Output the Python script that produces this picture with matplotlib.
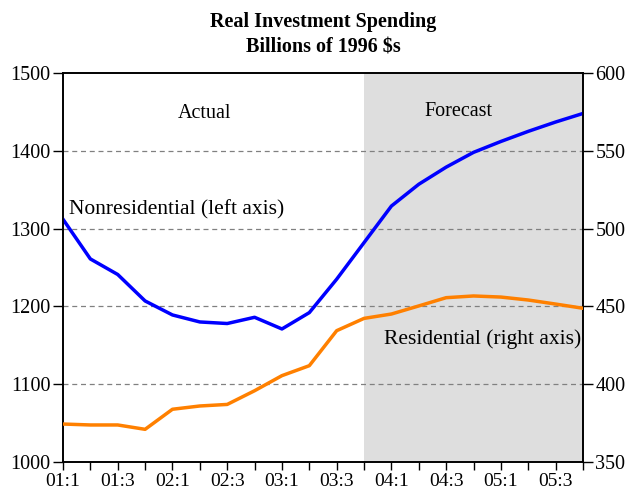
import matplotlib
matplotlib.use("Agg")
import matplotlib.pyplot as plt
import numpy as np

quarters = ["01:1","01:2","01:3","01:4","02:1","02:2","02:3","02:4",
            "03:1","03:2","03:3","03:4","04:1","04:2","04:3","04:4",
            "05:1","05:2","05:3","05:4"]
nonresidential = [1312,1261,1241,1207,1189,1180,1178,1186,1171,1192,
                  1235,1282,1329,1357,1379,1398,1412,1425,1437,1448]
residential = [374.4,373.8,373.8,371.0,383.9,386.0,387.0,395.8,405.5,411.9,
               434.4,442.3,445.1,450.3,455.6,456.7,456.0,454.1,451.5,448.8]
forecast_start = "03:4"
left_ticks = [1000,1100,1200,1300,1400,1500]
right_ticks = [350,400,450,500,550,600]

plt.rcParams['font.family'] = ['Liberation Serif', 'DejaVu Serif']

fig = plt.figure(figsize=(6.33,4.94), dpi=100)
ax = fig.add_axes([63/633, 1-462/494, 520/633, 389/494])
x = np.arange(len(quarters))
fs = quarters.index(forecast_start)

ax.axvspan(fs, len(quarters)-1, color="#dedede", lw=0, zorder=0)
for v in left_ticks[1:-1]:
    ax.axhline(v, color="#808080", ls=(0,(4,3)), lw=0.9, zorder=1)

ax.plot(x, nonresidential, color="#0000ff", lw=2.5, zorder=3)
ax.set_xlim(0, len(quarters)-1)
ax.set_ylim(1000, 1500)
ax.set_yticks(left_ticks)
ax.set_xticks(x)
ax.set_xticklabels([q if i % 2 == 0 else "" for i, q in enumerate(quarters)])

ax2 = ax.twinx()
ax2.plot(x, residential, color="#ff8000", lw=2.5, zorder=3)
ax2.set_ylim(350, 600)
ax2.set_yticks(right_ticks)

for a in (ax, ax2):
    a.tick_params(direction="out", length=7, width=1, labelsize=14.5, colors="black", pad=2)
    for s in a.spines.values():
        s.set_linewidth(1.2)
ax.tick_params(axis="x", length=6, pad=2, labelsize=14)

def axpos(px, py):
    return (px-63)/520, (462-py)/389

ax.text(*axpos(204.5, 113), "Actual", transform=ax.transAxes, ha="center", va="center", fontsize=14.5)
ax.text(*axpos(458, 111), "Forecast", transform=ax.transAxes, ha="center", va="center", fontsize=14.5)
ax.text(*axpos(69, 210), "Nonresidential (left axis)", transform=ax.transAxes,
        ha="left", va="center", fontsize=15.5)
ax.text(*axpos(581, 339), "Residential (right axis)", transform=ax.transAxes,
        ha="right", va="center", fontsize=15.5)

cx = (63+583)/2/633
fig.text(cx, 1-22/494, "Real Investment Spending", ha="center", va="center",
         fontsize=14.5, fontweight="bold")
fig.text(cx, 1-47/494, "Billions of 1996 $s", ha="center", va="center",
         fontsize=14.5, fontweight="bold")

fig.savefig("out.png", dpi=100)
